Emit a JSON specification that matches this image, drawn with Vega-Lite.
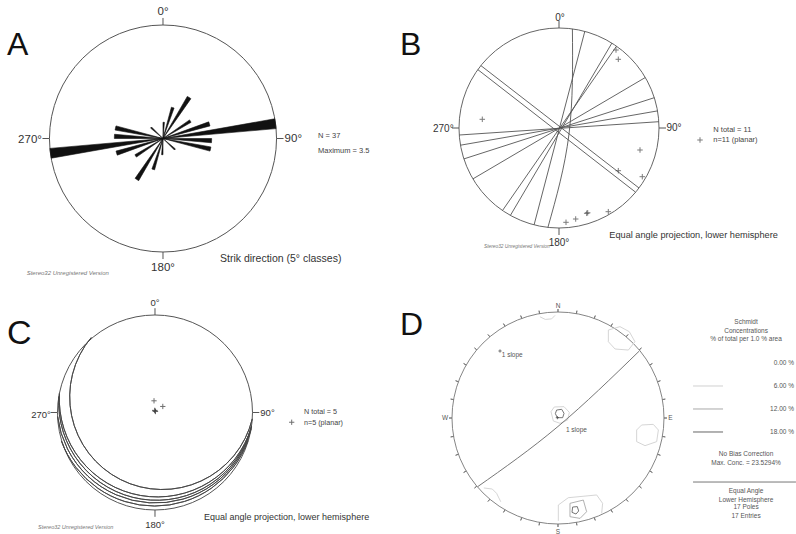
{
"$schema":"https://vega.github.io/schema/vega-lite/v6.json",
"background":"white",
"padding":0,
"bounds":"flush",
"align":"each",
"spacing":0,
"columns":2,
"config":{"view":{"stroke":null},"font":"Liberation Sans","text":{"font":"Liberation Sans"}},
"concat":[
{"width":398,"height":285,
 "encoding":{"x":{"field":"u","type":"quantitative","scale":{"domain":[-1.4361,2.0705],"nice":false,"zero":false},"axis":null},
             "y":{"field":"v","type":"quantitative","scale":{"domain":[-1.2907,1.2203],"nice":false,"zero":false},"axis":null}},
 "layer":[
  {"data":{"values":[{"u":0,"v":0}]},"mark":{"type":"arc","theta":0,"theta2":6.2832,"filled":false,"stroke":"#555","strokeWidth":1},
   "encoding":{"radius":{"datum":3.5,"type":"quantitative","scale":{"type":"linear","domain":[0,3.5],"range":[0,113.5],"zero":true,"nice":false}}}},
  {"data":{"values":[
    {"u":0,"v":0,"t0":0,"t1":5,"n":0.5},{"u":0,"v":0,"t0":180,"t1":185,"n":0.5},
    {"u":0,"v":0,"t0":15,"t1":20,"n":1.0},{"u":0,"v":0,"t0":195,"t1":200,"n":1.0},
    {"u":0,"v":0,"t0":30,"t1":35,"n":1.5},{"u":0,"v":0,"t0":210,"t1":215,"n":1.5},
    {"u":0,"v":0,"t0":55,"t1":60,"n":1.0},{"u":0,"v":0,"t0":235,"t1":240,"n":1.0},
    {"u":0,"v":0,"t0":70,"t1":75,"n":1.5},{"u":0,"v":0,"t0":250,"t1":255,"n":1.5},
    {"u":0,"v":0,"t0":80,"t1":85,"n":3.5},{"u":0,"v":0,"t0":260,"t1":265,"n":3.5},
    {"u":0,"v":0,"t0":90,"t1":95,"n":1.5},{"u":0,"v":0,"t0":270,"t1":275,"n":1.5},
    {"u":0,"v":0,"t0":100,"t1":105,"n":1.5},{"u":0,"v":0,"t0":280,"t1":285,"n":1.5},
    {"u":0,"v":0,"t0":130,"t1":135,"n":0.5},{"u":0,"v":0,"t0":310,"t1":315,"n":0.5}]},
   "mark":{"type":"arc","fill":"#111","stroke":"#111","strokeWidth":0.6},
   "encoding":{"theta":{"field":"t0","type":"quantitative","stack":null,"scale":{"domain":[0,360],"range":[0,6.283185307179586],"zero":false,"nice":false}},
               "theta2":{"field":"t1"},
               "radius":{"field":"n","type":"quantitative","stack":null,"scale":{"type":"linear","domain":[0,3.5],"range":[0,113.5],"zero":true,"nice":false}}}},
  {"data":{"values":[{"u":0,"v":1,"u2":0,"v2":1.062},{"u":1,"v":0,"u2":1.062,"v2":0},{"u":0,"v":-1,"u2":0,"v2":-1.062},{"u":-1,"v":0,"u2":-1.062,"v2":0}]},
   "mark":{"type":"rule","color":"#555","strokeWidth":1},
   "encoding":{"x2":{"field":"u2"},"y2":{"field":"v2"}}},
  {"data":{"values":[{"u":0,"v":1.117,"label":"0°"},{"u":-1.172,"v":-0.01,"label":"270°"},{"u":1.148,"v":-0.005,"label":"90°"},{"u":0,"v":-1.143,"label":"180°"}]},
   "mark":{"type":"text","fontSize":11.5,"color":"#333"},"encoding":{"text":{"field":"label"}}},
  {"data":{"values":[{"u":1.366,"v":0.022,"label":"N = 37"},{"u":1.366,"v":-0.107,"label":"Maximum = 3.5"}]},
   "mark":{"type":"text","fontSize":7.5,"align":"left","color":"#444"},"encoding":{"text":{"field":"label"}}},
  {"data":{"values":[{"u":0.502,"v":-1.062,"label":"Strik direction (5° classes)"}]},
   "mark":{"type":"text","fontSize":10.5,"align":"left","color":"#333"},"encoding":{"text":{"field":"label"}}},
  {"data":{"values":[{"u":-1.201,"v":-1.182,"label":"Stereo32 Unregistered Version"}]},
   "mark":{"type":"text","fontSize":6,"fontStyle":"italic","align":"left","color":"#777"},"encoding":{"text":{"field":"label"}}},
  {"data":{"values":[{"u":-1.374,"v":0.736,"label":"A"}]},
   "mark":{"type":"text","fontSize":32,"align":"left","baseline":"alphabetic","color":"#111"},"encoding":{"text":{"field":"label"}}}
 ]},
{"width":398,"height":285,
 "encoding":{"x":{"field":"u","type":"quantitative","scale":{"domain":[-1.61,2.37],"nice":false,"zero":false},"axis":null},
             "y":{"field":"v","type":"quantitative","scale":{"domain":[-1.57,1.28],"nice":false,"zero":false},"axis":null}},
 "layer":[
  {"data":{"values":[{"u":0,"v":0}]},"mark":{"type":"arc","theta":0,"theta2":6.2832,"filled":false,"stroke":"#666","strokeWidth":1},
   "encoding":{"radius":{"datum":1,"type":"quantitative","scale":{"type":"linear","domain":[0,1],"range":[0,100],"zero":true,"nice":false}}}},
  {"data":{"values":[{"u":0,"v":1,"u2":0,"v2":1.07},{"u":1,"v":0,"u2":1.07,"v2":0},{"u":0,"v":-1,"u2":0,"v2":-1.07},{"u":-1,"v":0,"u2":-1.07,"v2":0}]},
   "mark":{"type":"rule","color":"#555","strokeWidth":1},
   "encoding":{"x2":{"field":"u2"},"y2":{"field":"v2"}}},
  {"data":{"values":[
    {"id":1,"o":0,"u":0.134,"v":0.991},{"id":1,"o":1,"u":0.10,"v":-0.06},{"id":1,"o":2,"u":-0.111,"v":-0.994},
    {"id":2,"o":0,"u":0.258,"v":0.966},{"id":2,"o":1,"u":-0.249,"v":-0.968},
    {"id":3,"o":0,"u":0.529,"v":0.849},{"id":3,"o":1,"u":-0.486,"v":-0.874},
    {"id":4,"o":0,"u":0.575,"v":0.818},{"id":4,"o":1,"u":-0.565,"v":-0.825},
    {"id":5,"o":0,"u":0.863,"v":0.505},{"id":5,"o":1,"u":-0.861,"v":-0.509},
    {"id":6,"o":0,"u":0.953,"v":0.303},{"id":6,"o":1,"u":-0.951,"v":-0.309},
    {"id":7,"o":0,"u":0.985,"v":0.171},{"id":7,"o":1,"u":-0.985,"v":-0.172},
    {"id":8,"o":0,"u":0.998,"v":0.063},{"id":8,"o":1,"u":-0.997,"v":-0.07},
    {"id":9,"o":0,"u":-0.812,"v":0.584},{"id":9,"o":1,"u":0.766,"v":-0.642},
    {"id":10,"o":0,"u":-0.781,"v":0.624},{"id":10,"o":1,"u":0.8,"v":-0.6}]},
   "mark":{"type":"line","interpolate":"natural","color":"#555","strokeWidth":0.9},
   "encoding":{"detail":{"field":"id","type":"nominal"},"order":{"field":"o","type":"quantitative"}}},
  {"data":{"values":[{"u":0.57,"v":0.78},{"u":0.593,"v":0.687},{"u":-0.767,"v":0.087},{"u":0.81,"v":-0.22},{"u":0.593,"v":-0.427},{"u":0.833,"v":-0.487},{"u":0.493,"v":-0.837},{"u":0.277,"v":-0.853},{"u":0.287,"v":-0.848},{"u":0.167,"v":-0.91},{"u":0.07,"v":-0.943},{"u":1.41,"v":-0.12}]},
   "mark":{"type":"point","shape":"M-1,0L1,0M0,-1L0,1","size":30,"filled":false,"stroke":"#444","strokeWidth":1}},
  {"data":{"values":[{"u":0.01,"v":1.097,"label":"0°"},{"u":-1.157,"v":-0.01,"label":"270°"},{"u":1.15,"v":0,"label":"90°"},{"u":0,"v":-1.153,"label":"180°"}]},
   "mark":{"type":"text","fontSize":10,"color":"#333"},"encoding":{"text":{"field":"label"}}},
  {"data":{"values":[{"u":1.543,"v":-0.02,"label":"N total = 11"},{"u":1.543,"v":-0.12,"label":"n=11 (planar)"}]},
   "mark":{"type":"text","fontSize":7.5,"align":"left","color":"#444"},"encoding":{"text":{"field":"label"}}},
  {"data":{"values":[{"u":0.503,"v":-1.07,"label":"Equal angle projection, lower hemisphere"}]},
   "mark":{"type":"text","fontSize":9.2,"align":"left","color":"#333"},"encoding":{"text":{"field":"label"}}},
  {"data":{"values":[{"u":-0.75,"v":-1.19,"label":"Stereo32 Unregistered Version"}]},
   "mark":{"type":"text","fontSize":4.8,"fontStyle":"italic","align":"left","color":"#777"},"encoding":{"text":{"field":"label"}}},
  {"data":{"values":[{"u":-1.59,"v":0.73,"label":"B"}]},
   "mark":{"type":"text","fontSize":32,"align":"left","baseline":"alphabetic","color":"#111"},"encoding":{"text":{"field":"label"}}}
 ]},
{"width":398,"height":249,
 "encoding":{"x":{"field":"u","type":"quantitative","scale":{"domain":[-1.5897,2.4923],"nice":false,"zero":false},"axis":null},
             "y":{"field":"v","type":"quantitative","scale":{"domain":[-1.2462,1.3077],"nice":false,"zero":false},"axis":null}},
 "layer":[
  {"data":{"values":[{"u":0,"v":0}]},"mark":{"type":"arc","theta":0,"theta2":6.2832,"filled":false,"stroke":"#555","strokeWidth":1},
   "encoding":{"radius":{"datum":1,"type":"quantitative","scale":{"type":"linear","domain":[0,1],"range":[0,97.5],"zero":true,"nice":false}}}},
  {"data":{"values":[
    {"u":0.075,"v":0.16,"r":0.95,"t0":103.7,"t1":309.9},
    {"u":0.0246,"v":0.1405,"r":1.0065,"t0":106.6,"t1":273.2},
    {"u":0.0159,"v":0.104,"r":1.0041,"t0":104.0,"t1":273.4},
    {"u":0.0055,"v":0.0841,"r":1.0124,"t0":104.5,"t1":262.9},
    {"u":-0.0042,"v":0.059,"r":1.0186,"t0":110.0,"t1":249.9}]},
   "mark":{"type":"arc","filled":false,"stroke":"#444","strokeWidth":0.9},
   "encoding":{"theta":{"field":"t0","type":"quantitative","stack":null,"scale":{"domain":[0,360],"range":[0,6.283185307179586],"zero":false,"nice":false}},
               "theta2":{"field":"t1"},
               "radius":{"field":"r","type":"quantitative","stack":null,"scale":{"type":"linear","domain":[0,1],"range":[0,97.5],"zero":true,"nice":false}},
               "radius2":{"field":"r"}}},
  {"data":{"values":[{"u":0,"v":1,"u2":0,"v2":1.07},{"u":1,"v":0,"u2":1.07,"v2":0},{"u":0,"v":-1,"u2":0,"v2":-1.07},{"u":-1,"v":0,"u2":-1.07,"v2":0}]},
   "mark":{"type":"rule","color":"#555","strokeWidth":1},
   "encoding":{"x2":{"field":"u2"},"y2":{"field":"v2"}}},
  {"data":{"values":[{"u":-0.01,"v":0.12},{"u":0.08,"v":0.062},{"u":0.0,"v":0.017},{"u":0.005,"v":0.01},{"u":-0.003,"v":0.022},{"u":1.402,"v":-0.10}]},
   "mark":{"type":"point","shape":"M-1,0L1,0M0,-1L0,1","size":28,"filled":false,"stroke":"#333","strokeWidth":1}},
  {"data":{"values":[{"u":0,"v":1.12,"label":"0°"},{"u":-1.169,"v":-0.026,"label":"270°"},{"u":1.154,"v":-0.01,"label":"90°"},{"u":0,"v":-1.154,"label":"180°"}]},
   "mark":{"type":"text","fontSize":9.5,"color":"#333"},"encoding":{"text":{"field":"label"}}},
  {"data":{"values":[{"u":1.528,"v":0.008,"label":"N total = 5"},{"u":1.528,"v":-0.111,"label":"n=5 (planar)"}]},
   "mark":{"type":"text","fontSize":7.2,"align":"left","color":"#444"},"encoding":{"text":{"field":"label"}}},
  {"data":{"values":[{"u":0.503,"v":-1.069,"label":"Equal angle projection, lower hemisphere"}]},
   "mark":{"type":"text","fontSize":9,"align":"left","color":"#333"},"encoding":{"text":{"field":"label"}}},
  {"data":{"values":[{"u":-1.2,"v":-1.177,"label":"Stereo32 Unregistered Version"}]},
   "mark":{"type":"text","fontSize":5.5,"fontStyle":"italic","align":"left","color":"#777"},"encoding":{"text":{"field":"label"}}},
  {"data":{"values":[{"u":-1.518,"v":0.703,"label":"C"}]},
   "mark":{"type":"text","fontSize":34,"align":"left","baseline":"alphabetic","color":"#111"},"encoding":{"text":{"field":"label"}}}
 ]},
{"width":398,"height":249,
 "encoding":{"x":{"field":"u","type":"quantitative","scale":{"domain":[-1.5094,2.2453],"nice":false,"zero":false},"axis":null},
             "y":{"field":"v","type":"quantitative","scale":{"domain":[-1.0943,1.2547],"nice":false,"zero":false},"axis":null}},
 "layer":[
  {"data":{"values":[{"u":0,"v":0}]},"mark":{"type":"arc","theta":0,"theta2":6.2832,"filled":false,"stroke":"#777","strokeWidth":0.9},
   "encoding":{"radius":{"datum":1,"type":"quantitative","scale":{"type":"linear","domain":[0,1],"range":[0,106],"zero":true,"nice":false}}}},
  {"data":{"values":[
    {"u":0,"v":0,"az":0},{"u":0,"v":0,"az":10},{"u":0,"v":0,"az":20},{"u":0,"v":0,"az":30},{"u":0,"v":0,"az":40},{"u":0,"v":0,"az":50},
    {"u":0,"v":0,"az":60},{"u":0,"v":0,"az":70},{"u":0,"v":0,"az":80},{"u":0,"v":0,"az":90},{"u":0,"v":0,"az":100},{"u":0,"v":0,"az":110},
    {"u":0,"v":0,"az":120},{"u":0,"v":0,"az":130},{"u":0,"v":0,"az":140},{"u":0,"v":0,"az":150},{"u":0,"v":0,"az":160},{"u":0,"v":0,"az":170},
    {"u":0,"v":0,"az":180},{"u":0,"v":0,"az":190},{"u":0,"v":0,"az":200},{"u":0,"v":0,"az":210},{"u":0,"v":0,"az":220},{"u":0,"v":0,"az":230},
    {"u":0,"v":0,"az":240},{"u":0,"v":0,"az":250},{"u":0,"v":0,"az":260},{"u":0,"v":0,"az":270},{"u":0,"v":0,"az":280},{"u":0,"v":0,"az":290},
    {"u":0,"v":0,"az":300},{"u":0,"v":0,"az":310},{"u":0,"v":0,"az":320},{"u":0,"v":0,"az":330},{"u":0,"v":0,"az":340},{"u":0,"v":0,"az":350}]},
   "mark":{"type":"arc","filled":false,"stroke":"#777","strokeWidth":0.9},
   "encoding":{"theta":{"field":"az","type":"quantitative","stack":null,"scale":{"domain":[0,360],"range":[0,6.283185307179586],"zero":false,"nice":false}},
               "theta2":{"field":"az"},
               "radius":{"datum":1,"type":"quantitative","scale":{"type":"linear","domain":[0,1],"range":[0,106],"zero":true,"nice":false}},
               "radius2":{"datum":1.028}}},
  {"data":{"values":[
    {"id":"ne","lvl":"6","o":0,"u":0.475,"v":0.830},{"id":"ne","lvl":"6","o":1,"u":0.585,"v":0.862},{"id":"ne","lvl":"6","o":2,"u":0.673,"v":0.814},{"id":"ne","lvl":"6","o":3,"u":0.726,"v":0.720},{"id":"ne","lvl":"6","o":4,"u":0.664,"v":0.641},{"id":"ne","lvl":"6","o":5,"u":0.538,"v":0.651},{"id":"ne","lvl":"6","o":6,"u":0.475,"v":0.720},{"id":"ne","lvl":"6","o":7,"u":0.475,"v":0.830},
    {"id":"n","lvl":"6","o":0,"u":-0.17,"v":0.955},{"id":"n","lvl":"6","o":1,"u":-0.12,"v":0.93},{"id":"n","lvl":"6","o":2,"u":-0.06,"v":0.935},{"id":"n","lvl":"6","o":3,"u":-0.028,"v":0.968},
    {"id":"co","lvl":"6","o":0,"u":-0.066,"v":0.060},{"id":"co","lvl":"6","o":1,"u":-0.035,"v":0.104},{"id":"co","lvl":"6","o":2,"u":0.057,"v":0.107},{"id":"co","lvl":"6","o":3,"u":0.107,"v":0.053},{"id":"co","lvl":"6","o":4,"u":0.091,"v":-0.019},{"id":"co","lvl":"6","o":5,"u":0.019,"v":-0.050},{"id":"co","lvl":"6","o":6,"u":-0.044,"v":-0.028},{"id":"co","lvl":"6","o":7,"u":-0.066,"v":0.060},
    {"id":"ci","lvl":"18","o":0,"u":-0.013,"v":0.075},{"id":"ci","lvl":"18","o":1,"u":0.035,"v":0.082},{"id":"ci","lvl":"18","o":2,"u":0.057,"v":0.044},{"id":"ci","lvl":"18","o":3,"u":0.044,"v":0.003},{"id":"ci","lvl":"18","o":4,"u":-0.006,"v":0.003},{"id":"ci","lvl":"18","o":5,"u":-0.025,"v":0.041},{"id":"ci","lvl":"18","o":6,"u":-0.013,"v":0.075},
    {"id":"e","lvl":"6","o":0,"u":0.742,"v":-0.113},{"id":"e","lvl":"6","o":1,"u":0.789,"v":-0.066},{"id":"e","lvl":"6","o":2,"u":0.899,"v":-0.060},{"id":"e","lvl":"6","o":3,"u":0.947,"v":-0.113},{"id":"e","lvl":"6","o":4,"u":0.931,"v":-0.223},{"id":"e","lvl":"6","o":5,"u":0.821,"v":-0.261},{"id":"e","lvl":"6","o":6,"u":0.742,"v":-0.223},{"id":"e","lvl":"6","o":7,"u":0.742,"v":-0.113},
    {"id":"sw","lvl":"6","o":0,"u":-0.70,"v":-0.66},{"id":"sw","lvl":"6","o":1,"u":-0.62,"v":-0.67},{"id":"sw","lvl":"6","o":2,"u":-0.579,"v":-0.711},{"id":"sw","lvl":"6","o":3,"u":-0.54,"v":-0.79},
    {"id":"so","lvl":"6","o":0,"u":0.003,"v":-0.97},{"id":"so","lvl":"6","o":1,"u":0.003,"v":-0.821},{"id":"so","lvl":"6","o":2,"u":0.097,"v":-0.752},{"id":"so","lvl":"6","o":3,"u":0.365,"v":-0.726},{"id":"so","lvl":"6","o":4,"u":0.421,"v":-0.805},{"id":"so","lvl":"6","o":5,"u":0.412,"v":-0.90},
    {"id":"sm","lvl":"12","o":0,"u":0.113,"v":-0.805},{"id":"sm","lvl":"12","o":1,"u":0.239,"v":-0.774},{"id":"sm","lvl":"12","o":2,"u":0.270,"v":-0.884},{"id":"sm","lvl":"12","o":3,"u":0.208,"v":-0.947},{"id":"sm","lvl":"12","o":4,"u":0.113,"v":-0.931},{"id":"sm","lvl":"12","o":5,"u":0.113,"v":-0.805},
    {"id":"si","lvl":"18","o":0,"u":0.138,"v":-0.840},{"id":"si","lvl":"18","o":1,"u":0.182,"v":-0.836},{"id":"si","lvl":"18","o":2,"u":0.195,"v":-0.877},{"id":"si","lvl":"18","o":3,"u":0.170,"v":-0.906},{"id":"si","lvl":"18","o":4,"u":0.132,"v":-0.890},{"id":"si","lvl":"18","o":5,"u":0.138,"v":-0.840}]},
   "mark":{"type":"line","strokeWidth":0.9},
   "encoding":{"detail":{"field":"id","type":"nominal"},"order":{"field":"o","type":"quantitative"},
               "color":{"field":"lvl","type":"nominal","scale":{"domain":["6","12","18"],"range":["#d0d0d0","#a8a8a8","#666666"]},"legend":null}}},
  {"data":{"values":[{"o":0,"u":0.767,"v":0.632},{"o":1,"u":0.0,"v":-0.08},{"o":2,"u":-0.758,"v":-0.648}]},
   "mark":{"type":"line","interpolate":"natural","color":"#777","strokeWidth":1},
   "encoding":{"order":{"field":"o","type":"quantitative"}}},
  {"data":{"values":[{"lvl":"6","u":1.274,"u2":1.557,"v":0.302},{"lvl":"12","u":1.274,"u2":1.557,"v":0.085},{"lvl":"18","u":1.274,"u2":1.557,"v":-0.132}]},
   "mark":{"type":"rule","strokeWidth":1},
   "encoding":{"x2":{"field":"u2"},"color":{"field":"lvl","type":"nominal","scale":{"domain":["6","12","18"],"range":["#d0d0d0","#a8a8a8","#666666"]},"legend":null}}},
  {"data":{"values":[{"u":1.274,"u2":2.245,"v":-0.604}]},
   "mark":{"type":"rule","color":"#777","strokeWidth":1},
   "encoding":{"x2":{"field":"u2"}}},
  {"data":{"values":[{"u":-0.006,"v":0.003},{"u":-0.547,"v":0.632}]},
   "mark":{"type":"point","shape":"M-1,0L1,0M0,-1L0,1","size":10,"filled":false,"stroke":"#333","strokeWidth":1}},
  {"data":{"values":[{"u":0,"v":1.06,"label":"N"},{"u":0,"v":-1.072,"label":"S"},{"u":-1.066,"v":0,"label":"W"},{"u":1.06,"v":0,"label":"E"}]},
   "mark":{"type":"text","fontSize":6.5,"color":"#555"},"encoding":{"text":{"field":"label"}}},
  {"data":{"values":[{"u":-0.531,"v":0.594,"label":"1 slope"},{"u":0.075,"v":-0.113,"label":"1 slope"}]},
   "mark":{"type":"text","fontSize":6.5,"align":"left","color":"#555"},"encoding":{"text":{"field":"label"}}},
  {"data":{"values":[{"u":1.774,"v":0.901,"label":"Schmidt"},{"u":1.774,"v":0.825,"label":"Concentrations"},{"u":1.774,"v":0.745,"label":"% of total per 1.0 % area"},{"u":1.774,"v":-0.34,"label":"No Bias Correction"},{"u":1.774,"v":-0.425,"label":"Max. Conc. = 23.5294%"},{"u":1.774,"v":-0.689,"label":"Equal Angle"},{"u":1.774,"v":-0.769,"label":"Lower Hemisphere"},{"u":1.774,"v":-0.844,"label":"17 Poles"},{"u":1.774,"v":-0.925,"label":"17 Entries"}]},
   "mark":{"type":"text","fontSize":6.5,"color":"#555"},"encoding":{"text":{"field":"label"}}},
  {"data":{"values":[{"u":2.226,"v":0.519,"label":"0.00 %"},{"u":2.226,"v":0.302,"label":"6.00 %"},{"u":2.226,"v":0.085,"label":"12.00 %"},{"u":2.226,"v":-0.132,"label":"18.00 %"}]},
   "mark":{"type":"text","fontSize":6.5,"align":"right","color":"#555"},"encoding":{"text":{"field":"label"}}},
  {"data":{"values":[{"u":-1.49,"v":0.783,"label":"D"}]},
   "mark":{"type":"text","fontSize":32,"align":"left","baseline":"alphabetic","color":"#111"},"encoding":{"text":{"field":"label"}}}
 ]}
]
}
